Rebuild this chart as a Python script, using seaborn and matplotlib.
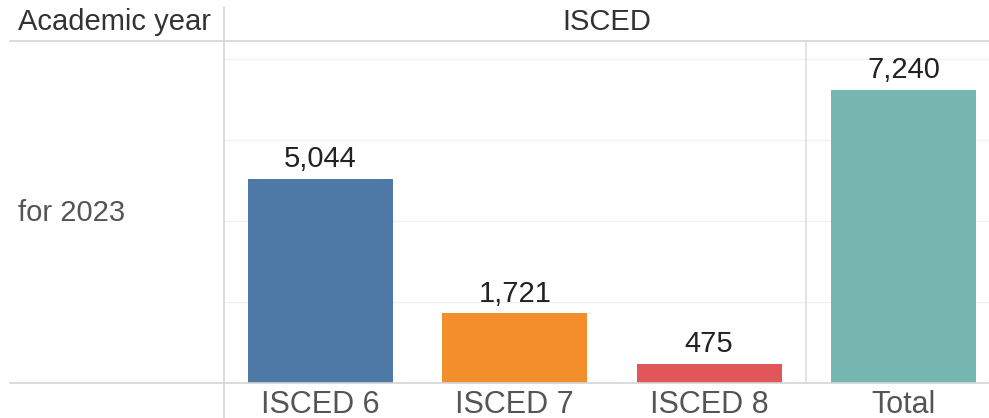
import matplotlib
matplotlib.use('Agg')
import matplotlib.pyplot as plt
from matplotlib.lines import Line2D
import seaborn as sns
import pandas as pd

categories = ['ISCED 6', 'ISCED 7', 'ISCED 8', 'Total']
values = [5044, 1721, 475, 7240]
colors = ['#4e79a7', '#f28e2b', '#e15759', '#76b7b2']
row_label = 'for 2023'

sns.set_style('white')
plt.rcParams['font.family'] = ['Liberation Sans', 'DejaVu Sans']

df = pd.DataFrame({'isced': categories, 'count': values})

W, H = 989, 418
fig = plt.figure(figsize=(W / 100, H / 100), dpi=100)
# plot area in pixel coords
x0, x1, ytop, ybot = 224, 989, 41, 383
ax = fig.add_axes([x0 / W, (H - ybot) / H, (x1 - x0) / W, (ybot - ytop) / H])

sns.barplot(data=df, x='isced', y='count', hue='isced', palette=colors,
            saturation=1, width=0.745, linewidth=0, legend=False, ax=ax)

ax.set_ylim(0, 8450)
ax.set_xlim(-0.496, 3.44)
for g in [2000, 4000, 6000, 8000]:
    ax.axhline(g, color='#f0f0f0', lw=1, zorder=0)
ax.axvline(2.5, color='#dddddd', lw=1.2, zorder=0)

for c in ax.containers:
    ax.bar_label(c, labels=[f'{v:,.0f}' for v in c.datavalues], padding=4,
                 fontsize=21, color='#222222')

ax.set_yticks([])
ax.set_xlabel('')
ax.set_ylabel('')
ax.tick_params(axis='x', length=0, labelsize=22, labelcolor='#555555', pad=5)
for s in ax.spines.values():
    s.set_visible(False)

# table lines
fig.add_artist(Line2D([10 / W, 1], [(H - 41) / H] * 2, color='#d4d4d4', lw=1.2))
fig.add_artist(Line2D([10 / W, 1], [(H - 383) / H] * 2, color='#d4d4d4', lw=1.2))
fig.add_artist(Line2D([x0 / W] * 2, [0, (H - 7) / H], color='#d4d4d4', lw=1.2))

fig.text(18 / W, (H - 22) / H, 'Academic year', fontsize=21, color='#333333',
         ha='left', va='center')
fig.text((x0 + x1) / 2 / W, (H - 22) / H, 'ISCED', fontsize=21, color='#333333',
         ha='center', va='center')
fig.text(18 / W, (H - 213) / H, row_label, fontsize=21, color='#555555',
         ha='left', va='center')

fig.savefig('out.png', dpi=100)
